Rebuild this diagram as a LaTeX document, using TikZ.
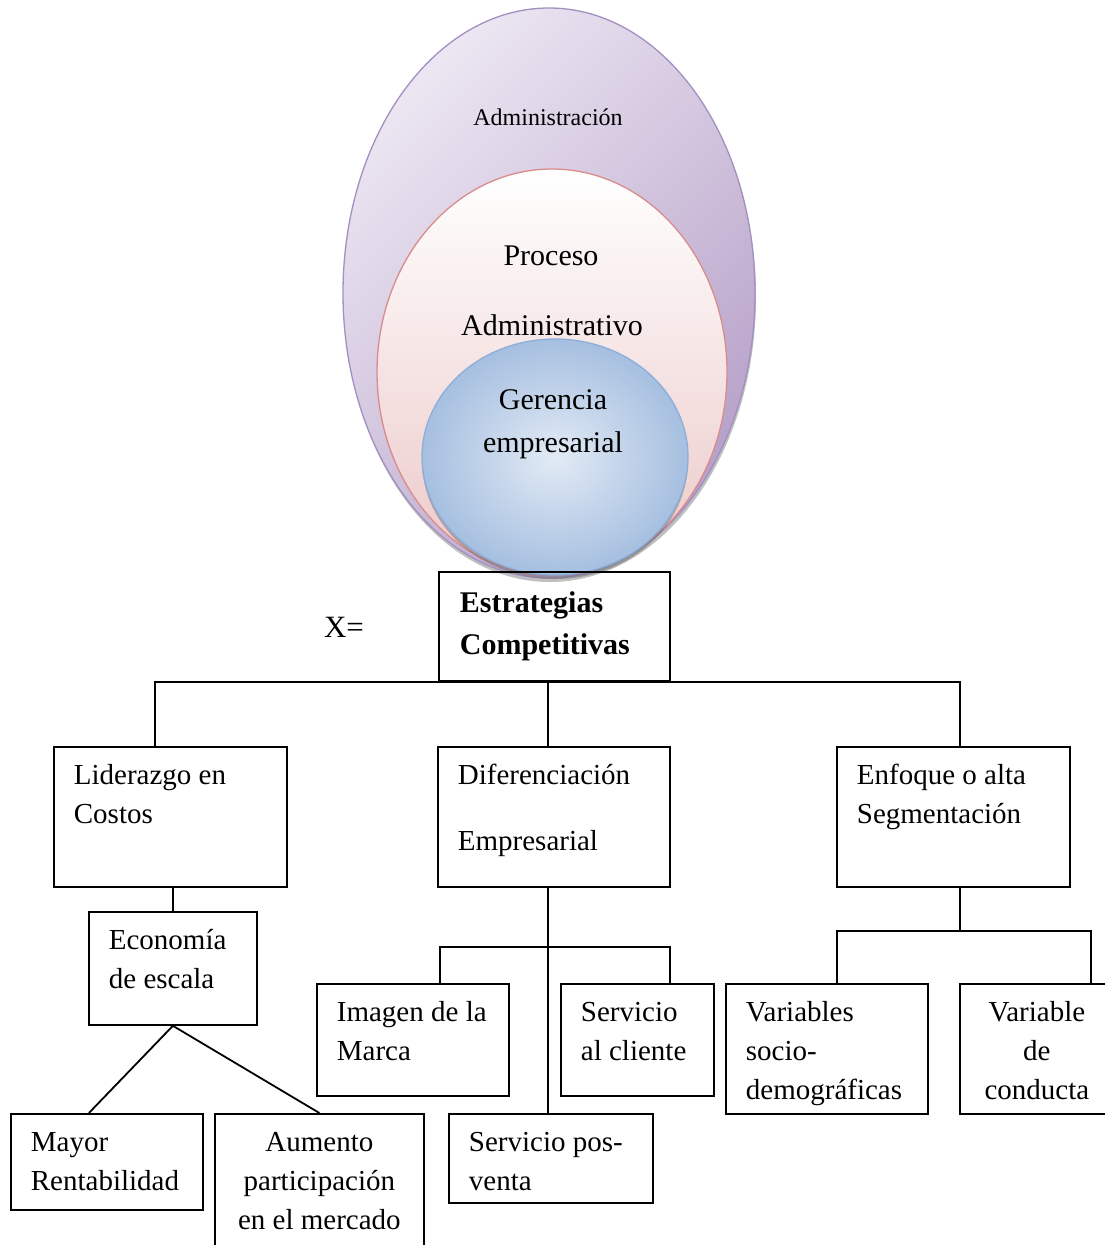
\documentclass[tikz,border=0pt]{standalone}
\usepackage{fontspec}
\setmainfont{Liberation Serif}
\usepackage{xcolor}
\usepackage{tikz}
\usetikzlibrary{positioning}

\definecolor{admL}{HTML}{ECE6F2}
\definecolor{admD}{HTML}{B6A0C8}
\definecolor{admB}{HTML}{A390C2}
\definecolor{proD}{HTML}{ECC8C8}
\definecolor{proB}{HTML}{D98C8C}
\definecolor{gerL}{HTML}{E2EBF5}
\definecolor{gerD}{HTML}{A6BFE0}
\definecolor{gerB}{HTML}{8CAFDA}

\newcommand{\boxfont}{\fontsize{29}{39}\selectfont}

\begin{document}
\begin{tikzpicture}
  [x=1pt,y=-1pt,line width=1.3pt,
  box/.style={draw,line width=1.8pt,anchor=north west,inner xsep=20pt,inner ysep=10pt,font=\boxfont},
  lbl/.style={font=\fontsize{30}{43}\selectfont,align=center}]

\tikzset{link/.style={line width=1.8pt}}

\fill[white] (0,0) rectangle (1105,1245);
\useasboundingbox (0,0) rectangle (1105,1245);
\clip (0,0) rectangle (1105,1245);

% ellipses
\fill[black!55,opacity=.45] (550,297) ellipse [x radius=206,y radius=285];
\shade[top color=admL,bottom color=admD,shading angle=45,draw=admB] (549,293) ellipse [x radius=206,y radius=285];
\shade[top color=white,bottom color=proD,draw=proB] (552,372) ellipse [x radius=175,y radius=203];
\fill[black!60,opacity=.45] (555,461) ellipse [x radius=133,y radius=118];
\shade[inner color=gerL,outer color=gerD,draw=gerB] (555,457) ellipse [x radius=133,y radius=118];

\node[font=\fontsize{24}{28}\selectfont] (adm) at (548,117) {Administración};
\node[lbl] (pro) at (551,256) {Proceso};
\node[lbl] (proa) at (552,325) {Administrativo};
\node[lbl] (ger) at (553,424) {Gerencia\\empresarial};

% boxes
\node[box,font=\bfseries\fontsize{30}{42}\selectfont,inner xsep=21pt,inner ysep=11.5pt] (est) at (438,571) {\parbox[t][86pt][t]{189pt}{\strut Estrategias\\Competitivas}};
\node[font=\fontsize{31}{36}\selectfont] (x) at (344,627) {X=};

\node[box] (lid) at (53,746) {\parbox[t][120pt][t]{193pt}{\strut Liderazgo en\\Costos}};
\node[box] (dif) at (437,746) {\parbox[t][120pt][t]{192pt}{\strut Diferenciación\\[27pt]Empresarial}};
\node[box] (enf) at (836,746) {\parbox[t][120pt][t]{193pt}{\strut Enfoque o alta\\Segmentación}};

\node[box] (eco) at (88,911) {\parbox[t][93pt][t]{128pt}{\strut Economía\\de escala}};
\node[box] (may) at (10,1113) {\parbox[t][76pt][t]{152pt}{\strut Mayor\\Rentabilidad}};
\node[box] (aum) at (214,1113) {\parbox[t][200pt][t]{169pt}{\centering\strut Aumento\\participación\\en el mercado}};

\node[box] (img) at (316,983) {\parbox[t][92pt][t]{152pt}{\strut Imagen~de~la\\Marca}};
\node[box] (cli) at (560,983) {\parbox[t][92pt][t]{113pt}{\strut Servicio\\al cliente}};
\node[box] (spv) at (448,1113) {\parbox[t][69pt][t]{164pt}{\strut Servicio pos-\\venta}};

\node[box] (var) at (725,983) {\parbox[t][110pt][t]{162pt}{\strut Variables\\socio-\\demográficas}};
\node[box] (con) at (959,983) {\parbox[t][110pt][t]{114pt}{\centering\strut Variable\\de\\conducta}};

% connectors
\draw[link] ([xshift=-15.5pt]lid.north) |- (est.south) -| ([xshift=6.5pt]enf.north);
\draw[link] ([xshift=-6.5pt]est.south) -- ([xshift=-6pt]dif.north);
\draw[link] (eco.north) -- (eco.north |- lid.south);
\draw[link] (eco.south) -- ([xshift=-18pt]may.north);
\draw[link] (eco.south) -- (aum.north);
\draw[link] ([xshift=-6pt]dif.south) -- ([xshift=-6pt]dif.south |- spv.north);
\draw[link] ([xshift=27pt]img.north) -- ++(0,-36) -| ([xshift=32.5pt]cli.north);
\draw[link] ([xshift=6.5pt]enf.south) -- ++(0,43) coordinate (enfb);
\draw[link] ([xshift=10pt]var.north) |- (enfb) -| ([xshift=54pt]con.north);
\end{tikzpicture}
\end{document}
